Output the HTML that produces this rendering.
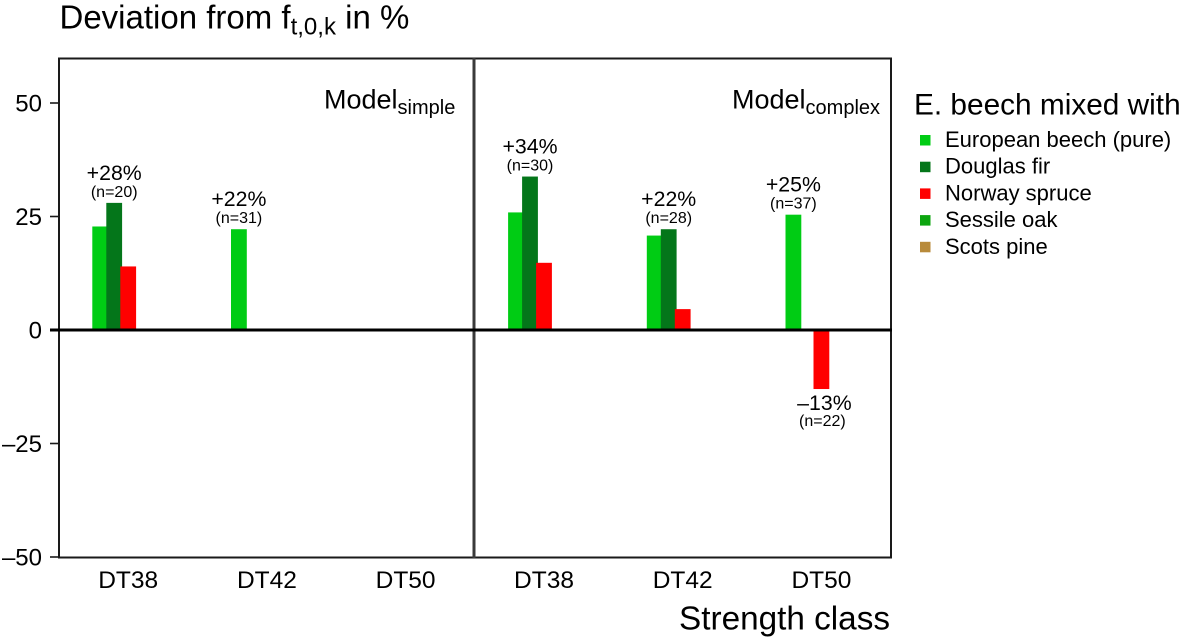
<!DOCTYPE html>
<html lang="en">
<head>
<meta charset="utf-8">
<title>Deviation from strength class by species mix</title>
<style>
html,body{margin:0;padding:0;background:#fff;}
svg{display:block;font-family:"Liberation Sans",Arial,sans-serif;fill:#000;}
</style>
</head>
<body>
<svg id="chart" width="1181" height="641" viewBox="0 0 1181 641" xmlns="http://www.w3.org/2000/svg">
  <rect x="0" y="0" width="1181" height="641" fill="#fff"/>
  <text x="59.5" y="28.5" font-size="33">Deviation from f<tspan font-size="24" dy="6">t,0,k</tspan><tspan dy="-6"> in %</tspan></text>
  <text x="890" y="629.5" font-size="33.3" text-anchor="end">Strength class</text>
  <text x="324" y="108.7" font-size="27">Model<tspan font-size="20" dy="5.5">simple</tspan></text>
  <text x="732" y="108.7" font-size="27">Model<tspan font-size="20" dy="5.5">complex</tspan></text>
  <g id="bars"></g>
  <g id="annotations"></g>
  <g id="yaxis"></g>
  <g id="xaxis"></g>
  <rect x="59" y="58.5" width="832" height="499" fill="none" stroke="#1a1a1a" stroke-width="2"/>
  <line x1="474" x2="474" y1="58" y2="558" stroke="#3a3a3a" stroke-width="3"/>
  <line x1="50" x2="892" y1="330" y2="330" stroke="#000" stroke-width="3"/>
  <text x="914" y="114.5" font-size="29.8">E. beech mixed with</text>
  <g id="legend"></g>
</svg>
<script>
const categories = ["DT38", "DT42", "DT50"];
const panels = ["simple", "complex"];
const speciesNames = ["European beech (pure)", "Douglas fir", "Norway spruce", "Sessile oak", "Scots pine"];
const speciesColors = ["#00cc14", "#04761a", "#ff0000", "#0ca50f", "#b88a3a"];
const yTicks = [50, 25, 0, -25, -50];
const yTickLabels = ["50", "25", "0", "–25", "–50"];

const simplePure = [22.8, 22.2, null];
const simpleDouglas = [28, null, null];
const simpleSpruce = [14, null, null];
const complexPure = [25.9, 20.8, 25.4];
const complexDouglas = [33.8, 22.2, null];
const complexSpruce = [14.8, 4.6, -13];

const simpleSeries = [simplePure, simpleDouglas, simpleSpruce];
const complexSeries = [complexPure, complexDouglas, complexSpruce];

const annotationPanel = [0, 0, 1, 1, 1, 1];
const annotationCategory = [0, 1, 0, 1, 2, 2];
const annotationSeries = [1, 0, 1, 1, 0, 2];
const annotationPercent = ["+28%", "+22%", "+34%", "+22%", "+25%", "–13%"];
const annotationCount = ["(n=20)", "(n=31)", "(n=30)", "(n=28)", "(n=37)", "(n=22)"];

const NS = "http://www.w3.org/2000/svg";
function yScale(v) { return 330 - v * 4.54; }
function categoryCenter(panel, cat) { return (panel === 0 ? 128.2 : 544) + cat * 138.7; }
function seriesCenter(panel, cat, series) { return categoryCenter(panel, cat) + (series - 2) * 14; }
function make(tag, attrs, text) {
  const el = document.createElementNS(NS, tag);
  for (const k in attrs) el.setAttribute(k, attrs[k]);
  if (text !== undefined) el.textContent = text;
  return el;
}

const barsGroup = document.getElementById("bars");
[simpleSeries, complexSeries].forEach(function (panelSeries, p) {
  panelSeries.forEach(function (values, s) {
    values.forEach(function (v, c) {
      if (v === null) return;
      const top = Math.min(yScale(v), yScale(0));
      const h = Math.abs(yScale(v) - yScale(0));
      const bar = make("rect", { x: seriesCenter(p, c, s) - 7.9, y: top, width: 15.8, height: h, fill: speciesColors[s] });
      
      
      barsGroup.appendChild(bar);
    });
  });
});

const annotationsGroup = document.getElementById("annotations");
annotationPercent.forEach(function (label, i) {
  const p = annotationPanel[i], c = annotationCategory[i], s = annotationSeries[i];
  const v = (p === 0 ? simpleSeries : complexSeries)[s][c];
  const x = seriesCenter(p, c, s);
  const neg = v < 0;
  const y1 = neg ? yScale(v) + 21 : yScale(v) - 23;
  const y2 = neg ? yScale(v) + 37 : yScale(v) - 6;
  const pct = make("text", { x: x + (neg ? 3 : 0), y: y1, "font-size": 21.3, "text-anchor": "middle" }, label);
  
  
  annotationsGroup.appendChild(pct);
  const cnt = make("text", { x: x + (neg ? 1 : 0), y: y2, "font-size": 16, "text-anchor": "middle" }, annotationCount[i]);
  
  
  annotationsGroup.appendChild(cnt);
});

const yGroup = document.getElementById("yaxis");
yTicks.forEach(function (t, i) {
  const tick = make("line", { x1: 50, x2: 59, y1: yScale(t), y2: yScale(t), stroke: "#1a1a1a", "stroke-width": 1.6 });
  
  
  yGroup.appendChild(tick);
  const lab = make("text", { x: 42, y: yScale(t) + 8.6, "font-size": 24, "text-anchor": "end" }, yTickLabels[i]);
  
  
  yGroup.appendChild(lab);
});

const xGroup = document.getElementById("xaxis");
panels.forEach(function (name, p) {
  categories.forEach(function (cat, c) {
    const lab = make("text", { x: categoryCenter(p, c), y: 588, "font-size": 24.5, "text-anchor": "middle" }, cat);
    
    
    xGroup.appendChild(lab);
  });
});

const legendGroup = document.getElementById("legend");
speciesNames.forEach(function (name, i) {
  const cy = 140 + i * 26.7;
  const sw = make("rect", { x: 920, y: cy - 5, width: 10.5, height: 10.5, fill: speciesColors[i] });
  
  
  legendGroup.appendChild(sw);
  const lab = make("text", { x: 945, y: cy + 7, "font-size": 22 }, name);
  
  
  legendGroup.appendChild(lab);
});
</script>
</body>
</html>
